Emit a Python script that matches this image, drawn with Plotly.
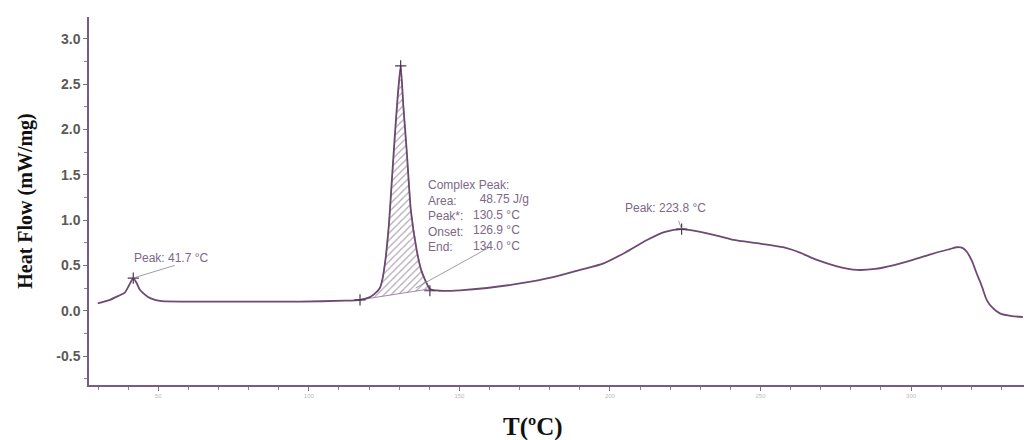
import plotly.graph_objects as go

# DSC curve
temp_c = [29.9, 34.0, 36.6, 38.9, 40.3, 41.7, 42.9, 43.9, 46.6, 48.9, 51.2, 63.9, 80.5, 97.1,
          112.0, 117.0, 120.3, 122.0, 123.6, 124.4, 125.4, 126.6, 127.6, 128.6, 129.6, 130.5, 131.4,
          132.5, 133.9, 135.8, 137.3, 138.6, 140.2, 143.5, 150.2, 159.2, 170.1, 181.1, 190.1,
          197.7, 205.0, 212.3, 218.3, 223.8, 230.0, 236.5, 241.0, 249.9, 257.5, 263.1, 268.7,
          275.4, 282.0, 288.0, 294.0, 300.6, 307.3, 312.9, 315.2, 317.2, 318.5, 320.2, 321.8,
          323.5, 325.1, 327.1, 329.5, 333.5, 337.1]
heat_flow = [0.08, 0.12, 0.16, 0.20, 0.28, 0.36, 0.30, 0.23, 0.15, 0.12, 0.105, 0.10, 0.10, 0.10,
             0.11, 0.12, 0.15, 0.19, 0.25, 0.34, 0.55, 0.95, 1.45, 1.95, 2.40, 2.70, 2.25,
             1.77, 1.10, 0.67, 0.45, 0.34, 0.24, 0.22, 0.225, 0.25, 0.30, 0.37, 0.45,
             0.52, 0.64, 0.78, 0.87, 0.90, 0.87, 0.82, 0.78, 0.74, 0.70, 0.64, 0.56,
             0.49, 0.45, 0.46, 0.50, 0.56, 0.63, 0.68, 0.70, 0.69, 0.65, 0.55, 0.41,
             0.27, 0.12, 0.03, -0.03, -0.06, -0.07]

# integration limits (baseline points) and marked peaks
onset_pt = (117.0, 0.12)
end_pt = (140.2, 0.22)
peaks_t = [41.7, 130.5, 223.8]
peaks_y = [0.36, 2.70, 0.90]

y_ticks = [-0.5, 0.0, 0.5, 1.0, 1.5, 2.0, 2.5, 3.0]
x_ticks = [50, 100, 150, 200, 250, 300]

line_col = "#6e4a72"
axis_col = "#7a5a88"
txt_col = "#7d6888"

fig = go.Figure()

# hatched integrated area
seg_t = [t for t in temp_c if onset_pt[0] <= t <= end_pt[0]]
seg_y = [heat_flow[temp_c.index(t)] for t in seg_t]
fig.add_trace(go.Scatter(
    x=seg_t + [onset_pt[0]], y=seg_y + [onset_pt[1]],
    mode="lines", fill="toself", line=dict(color="#8a6d95", width=0.8),
    fillcolor="rgba(0,0,0,0)",
    fillpattern=dict(shape="/", fgcolor="#5e4868", bgcolor="white", size=5, solidity=0.22),
    hoverinfo="skip", showlegend=False))

fig.add_trace(go.Scatter(x=temp_c, y=heat_flow, mode="lines",
                         line=dict(color=line_col, width=1.8, shape="spline", smoothing=0.6),
                         showlegend=False))

fig.add_trace(go.Scatter(x=peaks_t + [onset_pt[0], end_pt[0]],
                         y=peaks_y + [onset_pt[1], end_pt[1]],
                         mode="markers",
                         marker=dict(symbol="cross-thin", size=8, line=dict(color="#4a3550", width=1.2)),
                         showlegend=False))

# leader lines
shapes = [
    dict(type="line", xref="x", yref="y", x0=41.7, y0=0.36, x1=55.5, y1=0.50,
         line=dict(color="#8a8090", width=0.8)),
    dict(type="line", xref="x", yref="y", x0=135.5, y0=0.25, x1=160.0, y1=0.70,
         line=dict(color="#8a8090", width=0.8)),
    dict(type="line", xref="x", yref="y", x0=223.8, y0=0.90, x1=222.8, y1=0.99,
         line=dict(color="#8a8090", width=0.8)),
]

ann_font = dict(family="Arial, Liberation Sans, sans-serif", size=12, color=txt_col)
annotations = [
    dict(x=41.2, y=0.58, xref="x", yref="y", text="Peak: 41.7 °C", showarrow=False,
         xanchor="left", yanchor="middle", font=ann_font),
    dict(x=218.5, y=1.13, xref="x", yref="y", text="Peak: 223.8 °C", showarrow=False,
         xanchor="center", yanchor="middle", font=ann_font),
    dict(x=138.9, y=1.05, xref="x", yref="y",
         text="Complex Peak:<br>Area:<br>Peak*:<br>Onset:<br>End:",
         showarrow=False, xanchor="left", yanchor="middle", align="left", font=ann_font),
    dict(x=153.8, y=0.975, xref="x", yref="y",
         text="&nbsp;&nbsp;48.75 J/g<br>130.5 °C<br>126.9 °C<br>134.0 °C",
         showarrow=False, xanchor="left", yanchor="middle", align="left", font=ann_font),
    dict(x=0.475, y=0.0, xref="paper", yref="paper", yshift=-42, text="<b>T(ºC)</b>",
         showarrow=False, xanchor="center", yanchor="middle",
         font=dict(family="Liberation Serif, Times New Roman, serif", size=25, color="#111")),
]

fig.update_layout(
    width=1024, height=440,
    margin=dict(l=89, r=0, t=17, b=55),
    paper_bgcolor="white", plot_bgcolor="white",
    shapes=shapes, annotations=annotations,
    xaxis=dict(range=[27.0, 337.5], tickvals=x_ticks, ticktext=[str(v) for v in x_ticks],
               showgrid=False, zeroline=False, showline=True, linecolor=axis_col, linewidth=1.5,
               ticks="outside", ticklen=4, tickcolor="#777", tickwidth=1,
               tickfont=dict(size=6, color="#bbbbbb", family="Arial"),
               minor=dict(dtick=10, tick0=0, ticks="outside", ticklen=3, tickcolor="#888")),
    yaxis=dict(range=[-0.82, 3.24], tickvals=y_ticks, ticktext=[f"<b>{v:.1f}</b>" for v in y_ticks],
               showgrid=False, zeroline=False, showline=True, linecolor=axis_col, linewidth=1.5,
               ticks="outside", ticklen=4, tickcolor="#777", tickwidth=1.2,
               tickfont=dict(size=14, color="#5a5a5a", family="Liberation Sans, Arial, sans-serif"),
               title=dict(text="<b>Heat Flow (mW/mg)</b>", standoff=18,
                          font=dict(family="Liberation Serif, Times New Roman, serif", size=20, color="#111")),
               minor=dict(dtick=0.25, tick0=0, ticks="outside", ticklen=3, tickcolor="#888")),
)

fig.write_html("out.html")
